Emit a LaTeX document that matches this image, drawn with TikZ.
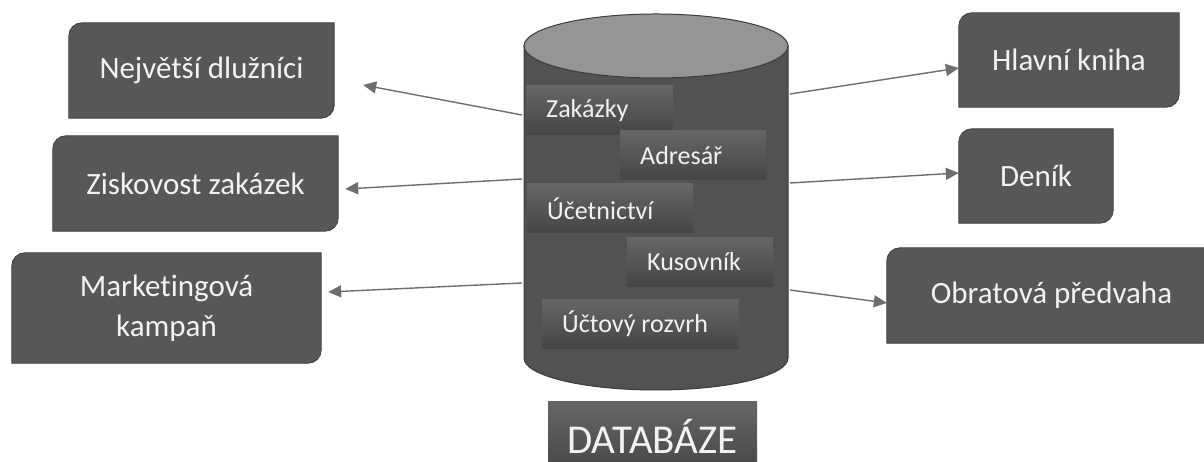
\documentclass[tikz,border=0pt]{standalone}
\usepackage{fontspec}
\setmainfont{Carlito}[Ligatures=NoCommon]
\usetikzlibrary{arrows.meta,backgrounds,positioning}

\definecolor{boxgray}{HTML}{57575A}
\definecolor{edgegray}{HTML}{3C3C3C}
\definecolor{cylbody}{HTML}{525254}
\definecolor{cyltop}{HTML}{959597}
\definecolor{linkgray}{HTML}{6E6E70}
\definecolor{txtwhite}{HTML}{F2F2F2}

\def\cornerrad{13pt}
% box with rounded top left and bottom right corner
\def\tagshape#1{\path[draw=edgegray,fill=boxgray,line width=0.8pt]
  (#1.south west) -- ([yshift=-\cornerrad]#1.north west)
  arc[start angle=180,end angle=90,radius=\cornerrad] -- (#1.north east)
  -- ([yshift=\cornerrad]#1.south east)
  arc[start angle=0,end angle=-90,radius=\cornerrad] -- cycle;}
% table label, set flush left in a box of the given width
\def\tablabel#1#2{\makebox[#1][l]{#2}}

\begin{document}
\begin{tikzpicture}[x=1pt,y=1pt]
		\tikzstyle{outbox}=[text=txtwhite,font=\fontsize{31}{40}\selectfont,inner sep=0pt,align=center,minimum height=95pt]
		\tikzstyle{tablebox}=[anchor=west,text=txtwhite,font=\fontsize{26}{30}\selectfont,inner xsep=20pt,inner ysep=0pt,minimum height=49pt,top color=black!60,bottom color=black!73]
		\tikzstyle{link}=[draw=linkgray,line width=1.4pt,-{Triangle[length=13pt,width=12pt]}]

		\useasboundingbox (0,0) rectangle (1204,462);

			% Draw the database cylinder
		\draw[draw=edgegray,fill=cylbody,line width=1pt] (524,416) -- (524,104)
			arc[start angle=180,end angle=360,x radius=132,y radius=32] -- (788,416) -- cycle;
		\draw[draw=edgegray,fill=cyltop,line width=1pt] (656,416) ellipse[x radius=132,y radius=32];

			% Tables inside the database
		\node[tablebox] (zak) at (526,351.5) {\tablabel{107pt}{Zakázky}};
		\node[tablebox] (adr) at (620,306.5) {\tablabel{106pt}{Adresář}};
		\node[tablebox] (uce) at (527,253.5) {\tablabel{126pt}{Účetnictví}};
		\node[tablebox] (kus) at (627,200) {\tablabel{106pt}{Kusovník}};
		\node[tablebox] (roz) at (542,138) {\tablabel{157pt}{Účtový rozvrh}};

		\node[text=txtwhite,font=\fontsize{41}{44}\selectfont,minimum width=209pt,minimum height=68pt,
			top color=black!60,bottom color=black!72,inner sep=0pt] (dbname) at (652.5,26) {DATABÁZE};

			% Outputs on the left
		\node[outbox,minimum width=265pt] (dlu) at (201.5,391.5) {Největší dlužníci};
		\node[outbox,minimum width=285pt] (zis) at (195.5,278.5) {Ziskovost zakázek};
		\node[outbox,minimum width=309pt,minimum height=110pt] (mar) at (166.5,154) {Marketingová\\kampaň};

			% Outputs on the right
		\node[outbox,minimum width=220pt,minimum height=94pt] (hla) at (1069,402) {Hlavní kniha};
		\node[outbox,minimum width=154pt,minimum height=94pt] (den) at (1036,286) {Deník};
		\node[outbox,minimum width=329pt] (obr) at (1051.5,166.5) {Obratová předvaha};

		\begin{scope}[on background layer]
		\foreach \n in {dlu,zis,mar,hla,den,obr}
		{\tagshape{\n}}
		\end{scope}

			% Points on the side of the cylinder
		\coordinate (l1) at (522,347);
		\coordinate (l2) at (522,283);
		\coordinate (l3) at (522,179);
		\coordinate (r1) at (790,368);
		\coordinate (r2) at (790,279);
		\coordinate (r3) at (790,172);

			% Connect the database with every output
		\draw[link] (l1) -- ([xshift=29pt,yshift=-14.5pt]dlu.east);
		\draw[link] (l2) -- ([xshift=7pt,yshift=-5.5pt]zis.east);
		\draw[link] (l3) -- ([xshift=7pt,yshift=16pt]mar.east);
		\draw[link] (r1) -- ([yshift=-8pt]hla.west);
		\draw[link] (r2) -- ([yshift=3pt]den.west);
		\draw[link] (r3) -- ([yshift=-7.5pt]obr.west);
		\end{tikzpicture}
\end{document}
